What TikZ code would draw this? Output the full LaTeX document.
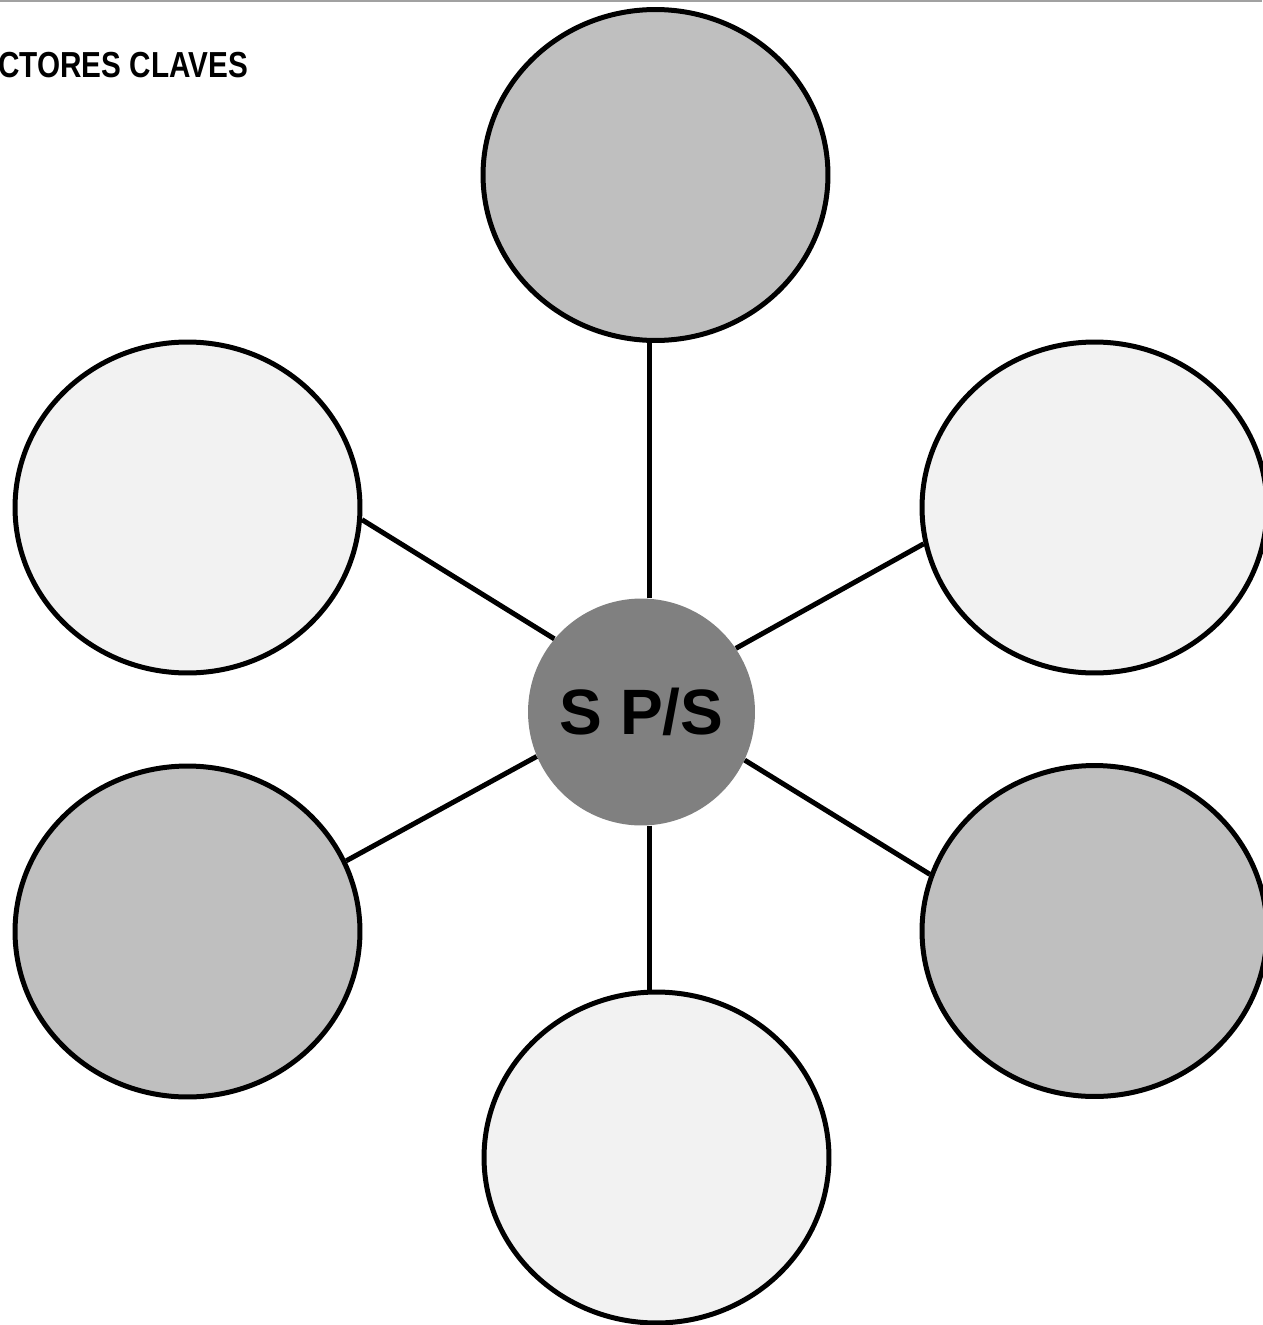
\documentclass[tikz,border=0pt]{standalone}
\usepackage{fontspec}
\setmainfont{Liberation Sans}
\newfontfamily\titlefont[FakeStretch=0.82]{Liberation Sans}
\usepackage{xcolor}
\usetikzlibrary{calc}
\usetikzlibrary{shapes.geometric}

\begin{document}
\begin{tikzpicture}[x=0.02cm, y=-0.02cm]

\tikzset{
    bubble/.style = {
    ellipse,
    draw,
    line width=0.1cm,
    inner sep=0pt,
    minimum width=6.9cm,
    minimum height=6.62cm
    }
}

\tikzstyle{claro}=[bubble, fill=black!5]
\tikzstyle{medio}=[bubble, fill=black!25]
\tikzstyle{centro}=[circle, fill=black!50, inner sep=0pt, minimum size=4.54cm,
    font=\fontsize{36.5}{40}\selectfont\bfseries]
\tikzstyle{rayo}=[line width=0.1cm]

\useasboundingbox (0,0) rectangle (1262,1325);

\draw[black!37, line width=0.04cm] (0,1) -- (1262,1);

\node (titulo) [anchor=base west, inner sep=0pt, font=\titlefont\bfseries\fontsize{20.6}{24}\selectfont] at (-2,77) {CTORES CLAVES};

\node (c) [centro] at (641.5,712) {\raisebox{-0.06cm}{S P/S}};

\node (arriba)  [medio] at (655.5,175) {};
\node (supizq)  [claro] at (187.5,507.5) {};
\node (supder)  [claro] at (1094.5,507.5) {};
\node (infizq)  [medio] at (187.5,931.5) {};
\node (infder)  [medio] at (1094.5,931) {};
\node (abajo)   [claro] at (656.5,1157.5) {};

\draw[rayo] (c.86) -- (c.86 |- arriba.south);
\draw[rayo] (c.-86) -- (c.-86 |- abajo.north);
\draw[rayo] (c.140) -- (supizq.-4);
\draw[rayo] (c.34) -- (supder.192);
\draw[rayo] (c.203) -- (infizq.24);
\draw[rayo] (c.-25) -- (infder.161);

\end{tikzpicture}
\end{document}
